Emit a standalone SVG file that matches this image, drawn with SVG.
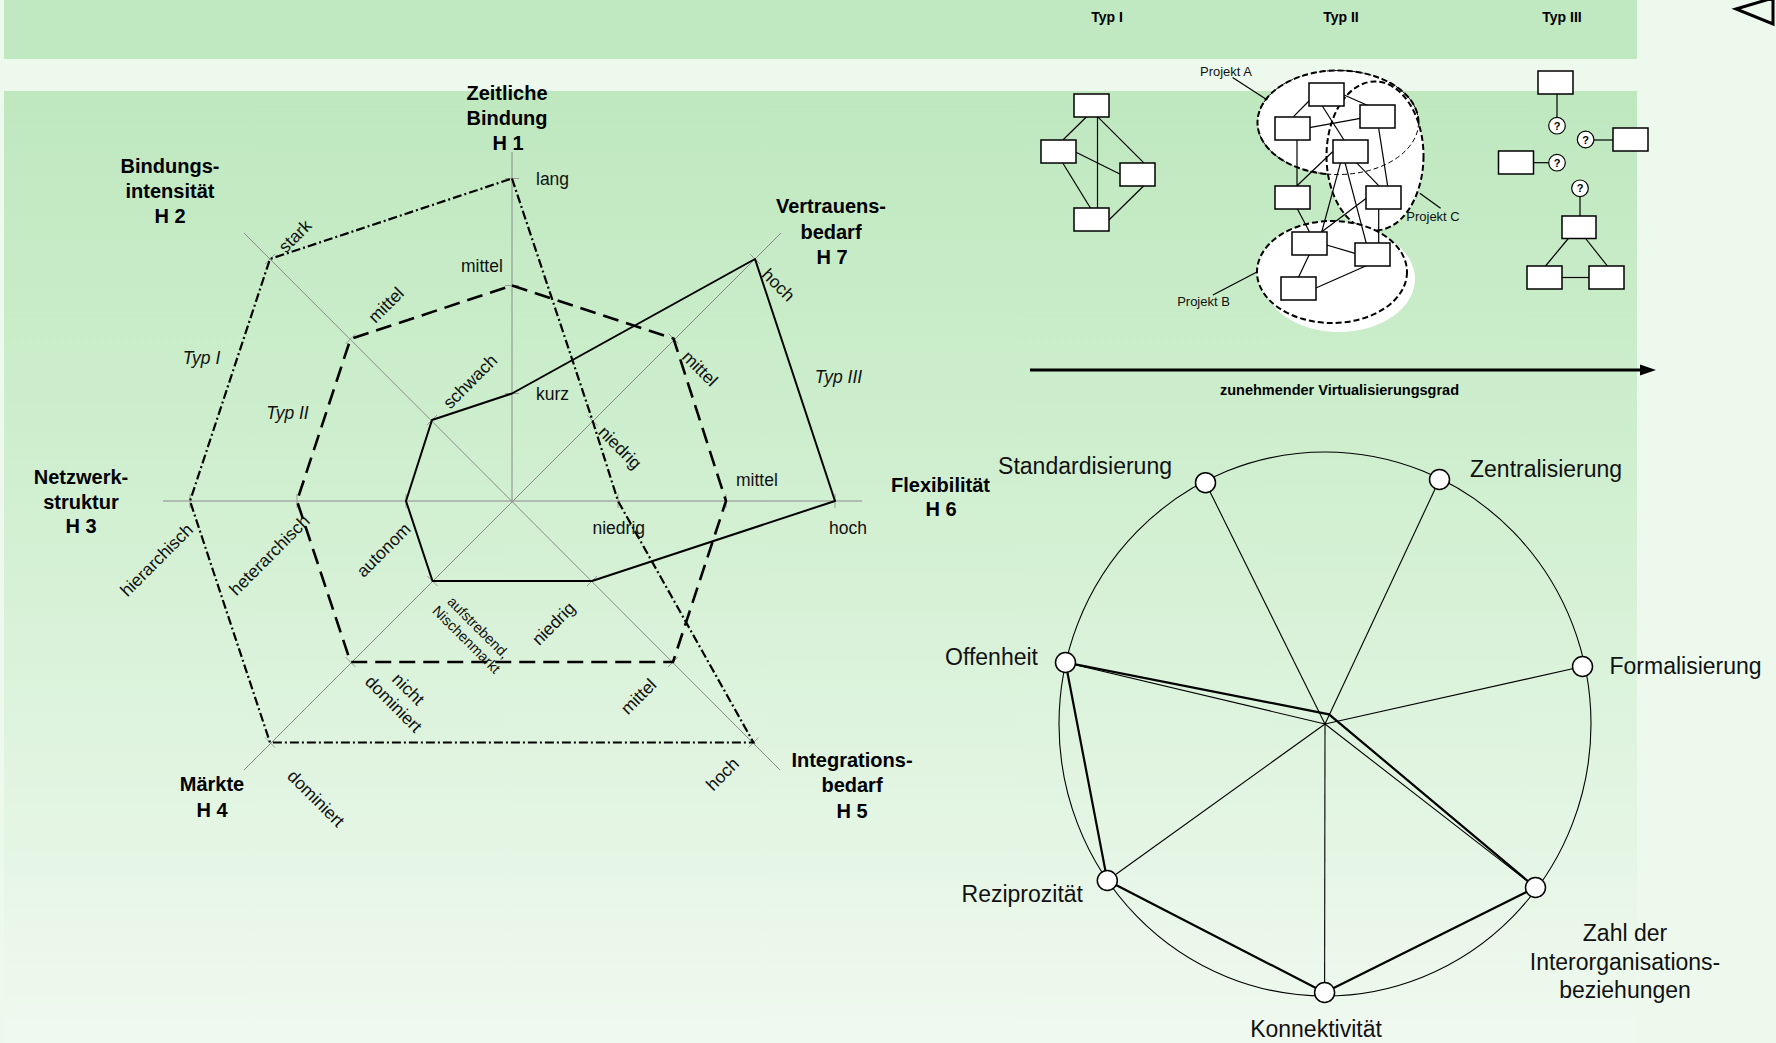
<svg xmlns="http://www.w3.org/2000/svg" width="1776" height="1043" viewBox="0 0 1776 1043">
<defs>
<linearGradient id="pg" x1="0" y1="0" x2="0" y2="1">
<stop offset="0" stop-color="#bfe8bf"/>
<stop offset="0.35" stop-color="#cdeecd"/>
<stop offset="1" stop-color="#f0f9f0"/>
</linearGradient>
<style>
.ax{stroke:#8a8a8a;stroke-width:1;fill:none}
.tk{stroke:#9a9a9a;stroke-width:1}
.t1{fill:none;stroke:#000;stroke-width:2.2;stroke-dasharray:9 3 2 3}
.t2{fill:none;stroke:#000;stroke-width:2.6;stroke-dasharray:16 8}
.t3{fill:none;stroke:#000;stroke-width:2;stroke-linejoin:round}
.hd{font-family:"Liberation Sans",Arial,sans-serif;font-weight:bold;font-size:20px;text-anchor:middle;fill:#000}
.lb{font-family:"Liberation Sans",Arial,sans-serif;font-size:17.5px;fill:#111}
.lc{font-family:"Liberation Sans",Arial,sans-serif;font-size:17.5px;fill:#111;text-anchor:middle}
.ls{font-family:"Liberation Sans",Arial,sans-serif;font-size:14.5px;fill:#111;text-anchor:middle}
.it{font-family:"Liberation Sans",Arial,sans-serif;font-style:italic;font-size:17.5px;fill:#111;text-anchor:middle}
.bx{fill:#fff;stroke:#000;stroke-width:1.5}
.ln{stroke:#000;stroke-width:1.2;fill:none}
.pe{fill:#fff;stroke:#000;stroke-width:2;stroke-dasharray:6 3}
.sm{font-family:"Liberation Sans",Arial,sans-serif;font-size:13px;fill:#111;text-anchor:middle}
.tb{font-family:"Liberation Sans",Arial,sans-serif;font-weight:bold;font-size:14px;fill:#000;text-anchor:middle}
.q{fill:#fff;stroke:#000;stroke-width:1.2}
.qt{font-family:"Liberation Sans",Arial,sans-serif;font-weight:bold;font-size:11px;text-anchor:middle;fill:#000}
.rl{font-family:"Liberation Sans",Arial,sans-serif;font-size:23px;fill:#111}
.sp{stroke:#000;stroke-width:1.1;fill:none}
.th{stroke:#000;stroke-width:2.2;fill:none;stroke-linejoin:miter}
.nd{fill:#fff;stroke:#000;stroke-width:1.5}
</style>
</defs>

<g id="background">
<rect x="0" y="0" width="1776" height="1043" fill="#eef9ee"/>
<rect x="4" y="0" width="1633" height="59" fill="#c1e9c1"/>
<rect x="4" y="91" width="1633" height="952" fill="url(#pg)"/>
<polygon points="1736,9 1773,-2 1773,24" fill="none" stroke="#000" stroke-width="3"/>
</g>

<g id="radar">
<g id="radar-axes">
<line class="ax" x1="512" y1="152" x2="512" y2="501"/>
<line class="ax" x1="163" y1="501" x2="862" y2="501"/>
<line class="ax" x1="244" y1="233" x2="780" y2="770"/>
<line class="ax" x1="781" y1="233" x2="244" y2="770"/>
<g class="tk">
<line x1="505" y1="178.5" x2="519" y2="178.5"/>
<line x1="505" y1="285.5" x2="519" y2="285.5"/>
<line x1="505" y1="393.5" x2="519" y2="393.5"/>
<line x1="190" y1="494" x2="190" y2="508"/>
<line x1="297" y1="494" x2="297" y2="508"/>
<line x1="406" y1="494" x2="406" y2="508"/>
<line x1="618" y1="494" x2="618" y2="508"/>
<line x1="726" y1="494" x2="726" y2="508"/>
<line x1="835" y1="494" x2="835" y2="508"/>
<line x1="265" y1="264" x2="275" y2="254"/>
<line x1="345.5" y1="344" x2="355.5" y2="334"/>
<line x1="427" y1="425" x2="437" y2="415"/>
<line x1="587" y1="586" x2="597" y2="576"/>
<line x1="668" y1="667" x2="678" y2="657"/>
<line x1="748.5" y1="747.5" x2="758.5" y2="737.5"/>
<line x1="750" y1="254" x2="760" y2="264"/>
<line x1="668.5" y1="333.5" x2="678.5" y2="343.5"/>
<line x1="587.5" y1="415.5" x2="597.5" y2="425.5"/>
<line x1="265" y1="737.5" x2="275" y2="747.5"/>
<line x1="345.5" y1="657" x2="355.5" y2="667"/>
<line x1="427.5" y1="576" x2="437.5" y2="586"/>
</g>
</g>

<g id="radar-profiles">
<polygon id="typ1" class="t1" points="512,178.5 592.5,420.5 618,501 753.5,742.5 270,742.5 190,501 270,259"/>
<polygon id="typ2" class="t2" points="512,285.5 673.5,338.5 726,501 673,662 350.5,662 297,501 350.5,339"/>
<polygon id="typ3" class="t3" points="512,393.5 755,259 835,501 592,581 432.5,581 406,501 432,420"/>
</g>

<g id="radar-titles">
<text class="hd" x="507" y="99.5">Zeitliche</text>
<text class="hd" x="507" y="124.5">Bindung</text>
<text class="hd" x="508" y="150">H 1</text>
<text class="hd" x="170" y="173">Bindungs-</text>
<text class="hd" x="170" y="198">intensität</text>
<text class="hd" x="170" y="223">H 2</text>
<text class="hd" x="81" y="484">Netzwerk-</text>
<text class="hd" x="81" y="508.5">struktur</text>
<text class="hd" x="81" y="533">H 3</text>
<text class="hd" x="212" y="791">Märkte</text>
<text class="hd" x="212" y="817">H 4</text>
<text class="hd" x="852" y="767">Integrations-</text>
<text class="hd" x="852" y="792">bedarf</text>
<text class="hd" x="852" y="817.5">H 5</text>
<text class="hd" x="940.5" y="491.5">Flexibilität</text>
<text class="hd" x="941" y="516">H 6</text>
<text class="hd" x="831" y="213">Vertrauens-</text>
<text class="hd" x="831" y="238.5">bedarf</text>
<text class="hd" x="832" y="263.5">H 7</text>
</g>

<g id="radar-labels">
<text class="lb" x="536" y="184.5">lang</text>
<text class="lb" x="461" y="271.5">mittel</text>
<text class="lb" x="536" y="400">kurz</text>
<text class="lb" x="736" y="486">mittel</text>
<text class="lb" x="829" y="533.5">hoch</text>
<text class="lb" x="592.5" y="533.5">niedrig</text>
<text class="it" x="201.5" y="363.5">Typ I</text>
<text class="it" x="287.5" y="418.5">Typ II</text>
<text class="it" x="838.5" y="382.5">Typ III</text>
<text class="lc" transform="translate(295 236) rotate(-45)" y="6">stark</text>
<text class="lc" transform="translate(386 305) rotate(-45)" y="6">mittel</text>
<text class="lc" transform="translate(470 381.5) rotate(-45)" y="6">schwach</text>
<text class="lc" transform="translate(156.5 560) rotate(-45)" y="6">hierarchisch</text>
<text class="lc" transform="translate(269.5 555) rotate(-45)" y="6">heterarchisch</text>
<text class="lc" transform="translate(383.5 550) rotate(-45)" y="6">autonom</text>
<text class="lc" transform="translate(778.5 285) rotate(45)" y="6">hoch</text>
<text class="lc" transform="translate(700 368.5) rotate(45)" y="6">mittel</text>
<text class="lc" transform="translate(620 447.5) rotate(45)" y="6">niedrig</text>
<text class="lc" transform="translate(553.5 623.5) rotate(-45)" y="6">niedrig</text>
<text class="lc" transform="translate(638.5 696.5) rotate(-45)" y="6">mittel</text>
<text class="lc" transform="translate(722.5 774) rotate(-45)" y="6">hoch</text>
<text class="lc" transform="translate(316 798.5) rotate(45)" y="6">dominiert</text>
<g transform="translate(401 696.5) rotate(45)">
<text class="lc" x="0" y="-4.5">nicht</text>
<text class="lc" x="0" y="16.5">dominiert</text>
</g>
<g transform="translate(472.5 633.5) rotate(45)">
<text class="ls" x="0" y="-3.5">aufstrebend,</text>
<text class="ls" x="0" y="13.5">Nischenmarkt</text>
</g>
</g>
</g>

<g id="typ-headers">
<text class="tb" x="1107" y="21.5">Typ I</text>
<text class="tb" x="1341" y="21.5">Typ II</text>
<text class="tb" x="1562" y="21.5">Typ III</text>
</g>

<g id="net-typ1">
<g class="ln">
<line x1="1086.6" y1="116.7" x2="1062.9" y2="140"/>
<line x1="1097.5" y1="116.7" x2="1097.5" y2="208.3"/>
<line x1="1097.5" y1="116.7" x2="1143.6" y2="162.7"/>
<line x1="1075" y1="151.7" x2="1119.8" y2="174"/>
<line x1="1062.9" y1="163.3" x2="1090.6" y2="208.3"/>
<line x1="1143.6" y1="186" x2="1108.9" y2="220"/>
</g>
<rect class="bx" x="1074" y="94" width="35" height="23"/>
<rect class="bx" x="1041" y="140" width="35" height="23"/>
<rect class="bx" x="1120" y="163" width="35" height="23"/>
<rect class="bx" x="1074" y="208" width="35" height="23"/>
</g>

<g id="net-typ2">
<ellipse cx="1338" cy="122.5" rx="80.5" ry="52" class="pe"/>
<ellipse cx="1375" cy="156" rx="48.5" ry="74.5" class="pe"/>
<ellipse cx="1338" cy="122.5" rx="80.5" ry="52" fill="none" stroke="#000" stroke-width="1" stroke-dasharray="5 3"/>
<ellipse cx="1339" cy="279" rx="76" ry="53" fill="#fff"/>
<ellipse cx="1332" cy="272" rx="75" ry="51" class="pe"/>
<g class="ln">
<line x1="1293.5" y1="116.7" x2="1310.9" y2="99"/>
<line x1="1309.4" y1="127.7" x2="1360.4" y2="118.3"/>
<line x1="1344" y1="95" x2="1367.3" y2="105.3"/>
<line x1="1321.8" y1="105.3" x2="1344" y2="140"/>
<line x1="1378.7" y1="128.3" x2="1387.6" y2="185.7"/>
<line x1="1297" y1="140" x2="1297" y2="185.7"/>
<line x1="1332.6" y1="151.7" x2="1297" y2="185.7"/>
<line x1="1340.6" y1="162.7" x2="1321.8" y2="231.7"/>
<line x1="1345" y1="162.7" x2="1366.3" y2="243.3"/>
<line x1="1356.4" y1="162.7" x2="1378.7" y2="185.7"/>
<line x1="1378.7" y1="208.3" x2="1378.7" y2="243.3"/>
<line x1="1297" y1="208.3" x2="1309.4" y2="231.7"/>
<line x1="1366.3" y1="198.3" x2="1321.8" y2="231.7"/>
<line x1="1326.7" y1="245" x2="1355" y2="253.3"/>
<line x1="1309.4" y1="254.3" x2="1298.5" y2="277.3"/>
<line x1="1366.3" y1="265.7" x2="1315.3" y2="288.3"/>
<line x1="1232.6" y1="77.5" x2="1267.3" y2="100"/>
<line x1="1212.9" y1="295" x2="1257.4" y2="271.7"/>
<line x1="1419.8" y1="193.3" x2="1440.6" y2="208.3"/>
</g>
<rect class="bx" x="1309" y="83" width="35" height="23"/>
<rect class="bx" x="1360" y="105" width="35" height="23"/>
<rect class="bx" x="1275" y="117" width="35" height="23"/>
<rect class="bx" x="1333" y="140" width="35" height="23"/>
<rect class="bx" x="1275" y="186" width="35" height="23"/>
<rect class="bx" x="1366" y="186" width="35" height="23"/>
<rect class="bx" x="1292" y="232" width="35" height="23"/>
<rect class="bx" x="1355" y="243" width="35" height="23"/>
<rect class="bx" x="1281" y="277" width="35" height="23"/>
<text class="sm" x="1226" y="76">Projekt A</text>
<text class="sm" x="1203.5" y="306">Projekt B</text>
<text class="sm" x="1433" y="221">Projekt C</text>
</g>

<g id="net-typ3">
<g class="ln">
<line x1="1557" y1="94" x2="1557" y2="117.5"/>
<line x1="1594" y1="140" x2="1613" y2="140"/>
<line x1="1533.5" y1="162.7" x2="1549" y2="162.7"/>
<line x1="1580" y1="196.5" x2="1580" y2="216"/>
<line x1="1568.3" y1="238.5" x2="1545.5" y2="266"/>
<line x1="1585.6" y1="238.5" x2="1607.4" y2="266"/>
<line x1="1562" y1="277.5" x2="1589" y2="277.5"/>
</g>
<rect class="bx" x="1538" y="71" width="35" height="23"/>
<rect class="bx" x="1613" y="128" width="35" height="23"/>
<rect class="bx" x="1498.5" y="151" width="35" height="23"/>
<rect class="bx" x="1562" y="216" width="34" height="22.5"/>
<rect class="bx" x="1527" y="266" width="35" height="23"/>
<rect class="bx" x="1589" y="266" width="35" height="23"/>
<circle class="q" cx="1557" cy="125.7" r="8.3"/>
<circle class="q" cx="1585.6" cy="139.5" r="8.3"/>
<circle class="q" cx="1557" cy="162.7" r="8.3"/>
<circle class="q" cx="1580" cy="188.3" r="8.3"/>
<text class="qt" x="1557" y="129.7">?</text>
<text class="qt" x="1585.6" y="143.5">?</text>
<text class="qt" x="1557" y="166.7">?</text>
<text class="qt" x="1580" y="192.3">?</text>
</g>

<g id="virtualisierung-arrow">
<line x1="1030" y1="370" x2="1643" y2="370" stroke="#000" stroke-width="3.2"/>
<polygon points="1640,364.5 1656,370 1640,375.5" fill="#000"/>
<text class="tb" x="1339.5" y="395" style="font-size:14.5px">zunehmender Virtualisierungsgrad</text>
</g>

<g id="circle-chart">
<ellipse cx="1325" cy="724" rx="266" ry="272" fill="none" stroke="#000" stroke-width="1.1"/>
<g id="spokes" class="sp">
<line x1="1325" y1="724" x2="1205.5" y2="482.7"/>
<line x1="1325" y1="724" x2="1439.5" y2="479.5"/>
<line x1="1325" y1="724" x2="1582.5" y2="666.5"/>
<line x1="1325" y1="724" x2="1535.5" y2="887.5"/>
<line x1="1325" y1="724" x2="1324.6" y2="992.5"/>
<line x1="1325" y1="724" x2="1107.3" y2="880.5"/>
<line x1="1325" y1="724" x2="1065.5" y2="662.5"/>
</g>
<polygon id="profile" class="th" points="1065.5,662.5 1107.3,880.5 1324.6,992.5 1535.5,887.5 1329,714.3"/>
<g id="node-standardisierung"><circle class="nd" cx="1205.5" cy="482.7" r="10"/><text class="rl" x="1172" y="473.5" text-anchor="end">Standardisierung</text></g>
<g id="node-zentralisierung"><circle class="nd" cx="1439.5" cy="479.5" r="10"/><text class="rl" x="1470" y="477">Zentralisierung</text></g>
<g id="node-formalisierung"><circle class="nd" cx="1582.5" cy="666.5" r="10"/><text class="rl" x="1609.5" y="674">Formalisierung</text></g>
<g id="node-zahl"><circle class="nd" cx="1535.5" cy="887.5" r="10"/>
<text class="rl" x="1625" y="941" text-anchor="middle">Zahl der</text>
<text class="rl" x="1625" y="970" text-anchor="middle">Interorganisations-</text>
<text class="rl" x="1625" y="997.5" text-anchor="middle">beziehungen</text></g>
<g id="node-konnektivitaet"><circle class="nd" cx="1324.6" cy="992.5" r="10"/><text class="rl" x="1316" y="1036.5" text-anchor="middle">Konnektivität</text></g>
<g id="node-reziprozitaet"><circle class="nd" cx="1107.3" cy="880.5" r="10"/><text class="rl" x="1083" y="901.5" text-anchor="end">Reziprozität</text></g>
<g id="node-offenheit"><circle class="nd" cx="1065.5" cy="662.5" r="10"/><text class="rl" x="1038" y="665" text-anchor="end">Offenheit</text></g>
</g>
</svg>
